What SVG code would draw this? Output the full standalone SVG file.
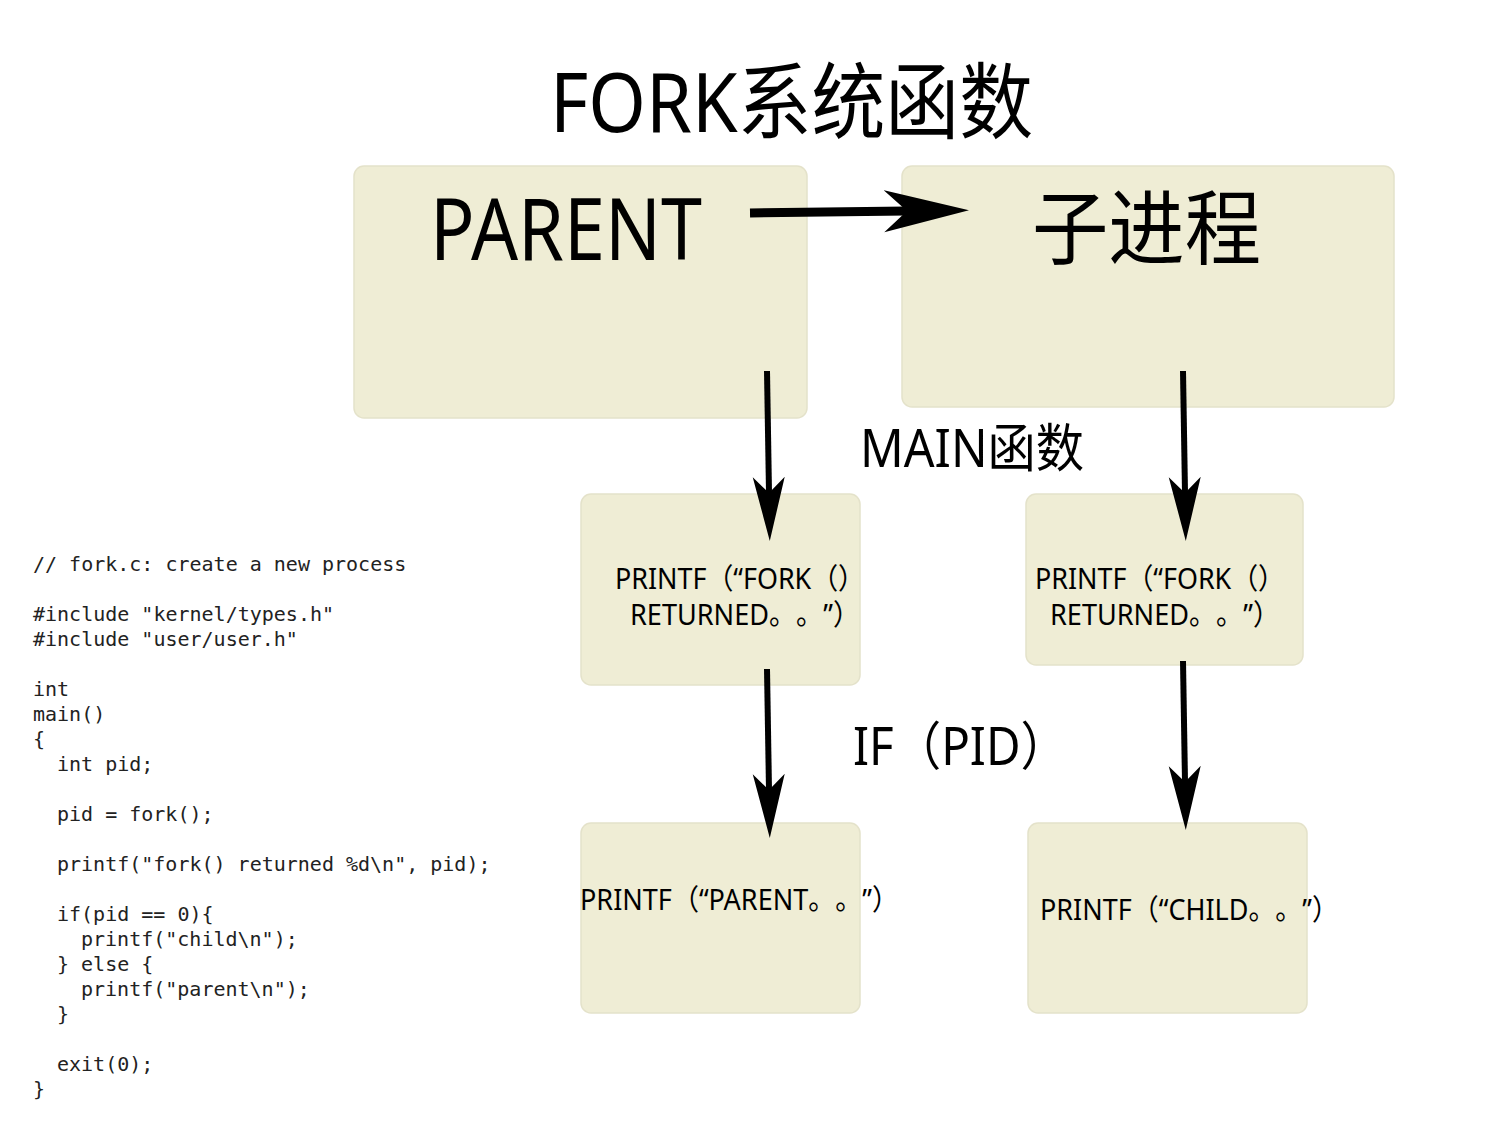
<svg xmlns="http://www.w3.org/2000/svg" width="1500" height="1133" viewBox="0 0 1500 1133">
<defs>
<style>
.box{fill:#efedd5;stroke:#e4e2ca;stroke-width:1.5}
.lbl{font-family:"Noto Sans","Noto Sans CJK SC",sans-serif;fill:#000;text-spacing-trim:space-all}
.sm{font-size:29px}
.code{font-family:"DejaVu Sans Mono","Liberation Mono",monospace;font-size:20px;fill:#222}
.conn{stroke:#000;fill:none}
</style>
<marker id="bigHead" markerUnits="userSpaceOnUse" markerWidth="90" markerHeight="50" viewBox="0 -25 90 50" refX="23" refY="0" orient="auto">
<path d="M0,-21 L85,0 L0,21 L23,0 Z" fill="#000"/>
</marker>
<marker id="downHead" markerUnits="userSpaceOnUse" markerWidth="70" markerHeight="40" viewBox="0 -20 70 40" refX="16" refY="0" orient="auto">
<path d="M0,-16 L64,0 L0,16 L16,0 Z" fill="#000"/>
</marker>
</defs>
<rect width="1500" height="1133" fill="#fff"/>
<text class="lbl" x="550" y="132" font-size="83" textLength="483" lengthAdjust="spacingAndGlyphs">FORK系统函数</text>
<g id="node-parent"><rect class="box" x="354" y="166" width="453" height="252" rx="10"/><text class="lbl" x="430" y="260" font-size="86" textLength="272" lengthAdjust="spacingAndGlyphs">PARENT</text></g>
<g id="node-child"><rect class="box" x="902" y="166" width="492" height="241" rx="10"/><text class="lbl" x="1032" y="258" font-size="82" textLength="229" lengthAdjust="spacingAndGlyphs">子进程</text></g>
<g id="node-p-printf"><rect class="box" x="581" y="494" width="279" height="191" rx="10"/>
<text class="lbl sm" x="615" y="589" textLength="250" lengthAdjust="spacingAndGlyphs">PRINTF（“FORK（）</text>
<text class="lbl sm" x="630" y="625" textLength="230" lengthAdjust="spacingAndGlyphs">RETURNED。。”）</text></g>
<g id="node-c-printf"><rect class="box" x="1026" y="494" width="277" height="171" rx="10"/>
<text class="lbl sm" x="1035" y="589" textLength="250" lengthAdjust="spacingAndGlyphs">PRINTF（“FORK（）</text>
<text class="lbl sm" x="1050" y="625" textLength="230" lengthAdjust="spacingAndGlyphs">RETURNED。。”）</text></g>
<g id="node-parent-out"><rect class="box" x="581" y="823" width="279" height="190" rx="10"/>
<text class="lbl sm" x="580" y="910" textLength="319" lengthAdjust="spacingAndGlyphs">PRINTF（“PARENT。。”）</text></g>
<g id="node-child-out"><rect class="box" x="1028" y="823" width="279" height="190" rx="10"/>
<text class="lbl sm" x="1040" y="920" textLength="299" lengthAdjust="spacingAndGlyphs">PRINTF（“CHILD。。”）</text></g>
<text class="lbl" x="860" y="467" font-size="52" textLength="224" lengthAdjust="spacingAndGlyphs">MAIN函数</text>
<text class="lbl" x="853" y="765" font-size="52" textLength="215" lengthAdjust="spacingAndGlyphs">IF（PID）</text>
<g id="connectors">
<line class="conn" x1="750" y1="213" x2="907" y2="211" stroke-width="9" marker-end="url(#bigHead)"/>
<line class="conn" x1="767" y1="371" x2="769" y2="493" stroke-width="6" marker-end="url(#downHead)"/>
<line class="conn" x1="1183" y1="371" x2="1185" y2="493" stroke-width="6" marker-end="url(#downHead)"/>
<line class="conn" x1="767" y1="669" x2="769" y2="790" stroke-width="6" marker-end="url(#downHead)"/>
<line class="conn" x1="1183" y1="661" x2="1185" y2="782" stroke-width="6" marker-end="url(#downHead)"/>
</g>
<g id="code">
<text class="code" x="33" y="571">// fork.c: create a new process</text>
<text class="code" x="33" y="621">#include "kernel/types.h"</text>
<text class="code" x="33" y="646">#include "user/user.h"</text>
<text class="code" x="33" y="696">int</text>
<text class="code" x="33" y="721">main()</text>
<text class="code" x="33" y="746">{</text>
<text class="code" x="57" y="771">int pid;</text>
<text class="code" x="57" y="821">pid = fork();</text>
<text class="code" x="57" y="871">printf("fork() returned %d\n", pid);</text>
<text class="code" x="57" y="921">if(pid == 0){</text>
<text class="code" x="81" y="946">printf("child\n");</text>
<text class="code" x="57" y="971">} else {</text>
<text class="code" x="81" y="996">printf("parent\n");</text>
<text class="code" x="57" y="1021">}</text>
<text class="code" x="57" y="1071">exit(0);</text>
<text class="code" x="33" y="1096">}</text>
</g>
</svg>
